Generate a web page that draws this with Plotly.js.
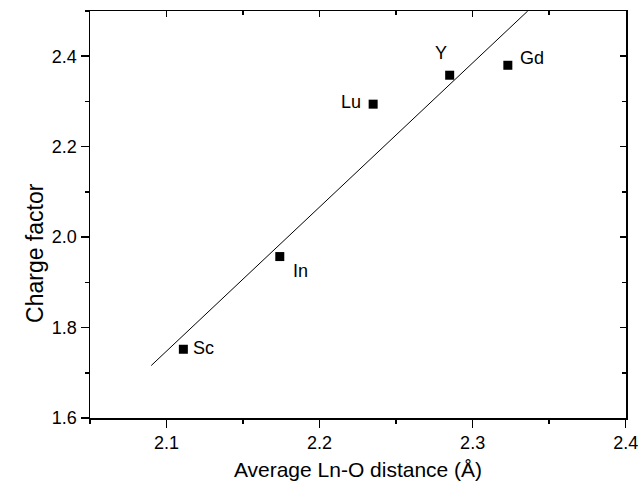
<!DOCTYPE html>
<html>
<head>
<meta charset="utf-8">
<script src="https://cdn.plot.ly/plotly-3.0.1.min.js"></script>
<style>html,body{margin:0;padding:0;background:#fff;}#chart{width:638px;height:481px;}</style>
</head>
<body>
<div id="chart"></div>
<script>
// Data
const elements = ["Sc", "In", "Lu", "Y", "Gd"];
const distance = [2.111, 2.174, 2.235, 2.285, 2.323];
const chargeFactor = [1.752, 1.957, 2.294, 2.358, 2.380];
const fitX = [2.090, 2.336];
const fitY = [1.716, 2.500];
const xTickVals = [2.1, 2.2, 2.3, 2.4];
const yTickVals = [1.6, 1.8, 2.0, 2.2, 2.4];

const FONT = "Liberation Sans, Arial, sans-serif";

// label placement (pixel offsets) per element
const labelStyle = {
  "Sc": {xanchor: "left", xshift: 8, yshift: 1},
  "In": {xanchor: "left", xshift: 11, yshift: -14},
  "Lu": {xanchor: "right", xshift: -10, yshift: 2},
  "Y":  {xanchor: "center", xshift: -9, yshift: 22},
  "Gd": {xanchor: "left", xshift: 10, yshift: 7}
};

const traces = [
  {
    x: distance, y: chargeFactor, type: "scatter", mode: "markers",
    marker: {symbol: "square", size: 9, color: "#000"},
    hoverinfo: "skip", showlegend: false
  },
  {
    x: fitX, y: fitY, type: "scatter", mode: "lines",
    line: {color: "#000", width: 1},
    hoverinfo: "skip", showlegend: false
  },
  {
    x: fitX, y: fitY, type: "scatter", mode: "lines", xaxis: "x2", yaxis: "y2",
    line: {color: "rgba(0,0,0,0)", width: 0},
    hoverinfo: "skip", showlegend: false
  }
];

const annotations = elements.map((el, i) => Object.assign({
  x: distance[i], y: chargeFactor[i], xref: "x", yref: "y",
  text: el, showarrow: false, yanchor: "middle",
  font: {family: FONT, size: 18, color: "#000"}
}, labelStyle[el]));

// y-axis title (placed to match the reference, slightly below plot centre)
annotations.push({
  text: "Charge factor", textangle: -90, showarrow: false,
  xref: "paper", yref: "paper", x: -0.103, y: 0.405,
  xanchor: "center", yanchor: "middle",
  font: {family: FONT, size: 23, color: "#000"}
});

const axisCommon = {
  showgrid: false, zeroline: false, showline: true, linecolor: "#000", linewidth: 1.5,
  tickcolor: "#000", tickwidth: 1.5, ticklen: 8, ticks: "outside",
  ticklabeloverflow: "allow",
  tickfont: {family: FONT, size: 18, color: "#000"}
};

const layout = {
  width: 638, height: 481,
  margin: {l: 90, r: 12, t: 11, b: 63, pad: 0},
  paper_bgcolor: "#fff", plot_bgcolor: "#fff",
  showlegend: false,
  xaxis: Object.assign({}, axisCommon, {
    range: [2.05, 2.4002], tickvals: xTickVals, ticktext: xTickVals.map(v => v.toFixed(1)),
    minor: {ticks: "outside", ticklen: 4, tickwidth: 1.5, tickcolor: "#000", dtick: 0.05, tick0: 2.05},
    title: {text: "Average Ln-O distance (Å)", font: {family: FONT, size: 21, color: "#000"}, standoff: 12}
  }),
  yaxis: Object.assign({}, axisCommon, {
    range: [1.6, 2.5], tickvals: yTickVals, ticktext: yTickVals.map(v => v.toFixed(1)),
    minor: {ticks: "outside", ticklen: 4, tickwidth: 1.5, tickcolor: "#000", dtick: 0.1, tick0: 1.6}
  }),
  xaxis2: Object.assign({}, axisCommon, {
    overlaying: "x", side: "top", anchor: "y2", range: [2.05, 2.4002], tickvals: xTickVals,
    ticks: "inside", ticklen: 6, showticklabels: false,
    minor: {ticks: "inside", ticklen: 4, tickwidth: 1.5, tickcolor: "#000", dtick: 0.05, tick0: 2.05}
  }),
  yaxis2: Object.assign({}, axisCommon, {
    overlaying: "y", side: "right", anchor: "x2", range: [1.6, 2.5], tickvals: yTickVals,
    ticks: "inside", ticklen: 6, showticklabels: false,
    minor: {ticks: "inside", ticklen: 4, tickwidth: 1.5, tickcolor: "#000", dtick: 0.1, tick0: 1.6}
  }),
  annotations: annotations
};

Plotly.newPlot("chart", traces, layout, {staticPlot: true, displayModeBar: false});
</script>
</body>
</html>
